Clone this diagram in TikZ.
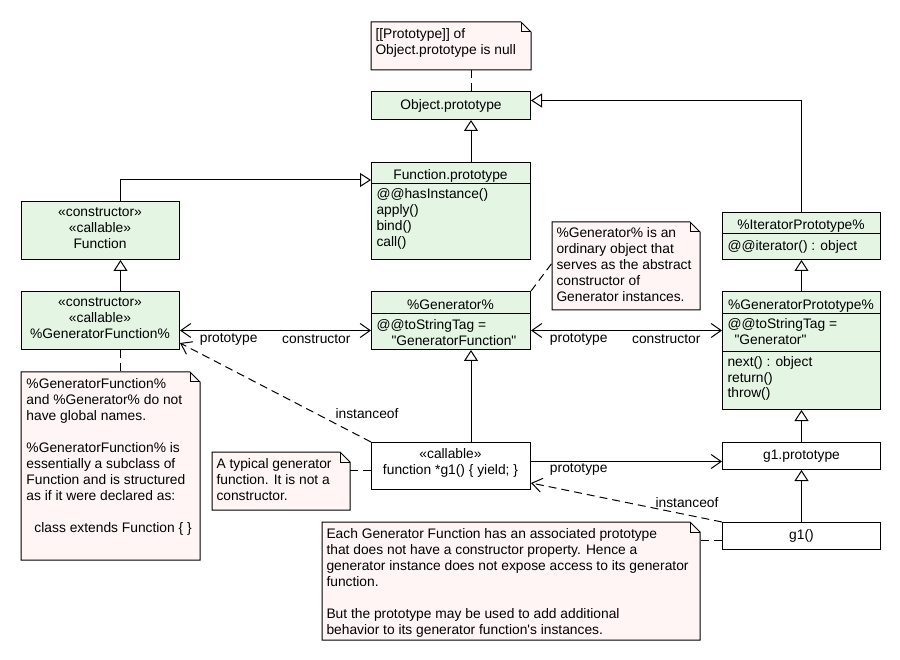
\documentclass[tikz,border=0pt]{standalone}
\usepackage{fontspec}
\newfontfamily\lsans{Liberation Sans}
\usetikzlibrary{arrows.meta}
\definecolor{clsfill}{HTML}{E4F5E4}
\definecolor{notefill}{HTML}{FFF5F5}
\newcommand\drawnotefold[1]{%
  \filldraw[fill=notefill] (#1.north west) -- ([xshift=-10pt]#1.north east) -- ([yshift=-10pt]#1.north east) -- (#1.south east) -- (#1.south west) -- cycle;
  \draw ([xshift=-10pt]#1.north east) -- ([xshift=-10pt,yshift=-10pt]#1.north east) -- ([yshift=-10pt]#1.north east);}
\tikzset{
  every node/.style={font=\lsans\fontsize{13.8}{16}\selectfont},
  box/.style={draw, anchor=north west, inner sep=0pt, fill=clsfill},
  wbox/.style={box, fill=white},
  notebox/.style={anchor=north west, inner sep=0pt},
  txtl/.style={inner sep=0pt, anchor=north west, align=left, execute at begin node=\strut},
  txtc/.style={inner sep=0pt, anchor=north, align=center, execute at begin node=\strut},
  lbl/.style={inner sep=0pt},
  inh/.style={-{Triangle[length=11pt,width=14pt,fill=white]}},
  opena/.style={-{Straight Barb[length=10pt,width=14pt]}},
  biopen/.style={{Straight Barb[length=10pt,width=14pt]}-{Straight Barb[length=10pt,width=14pt]}},
  dsh/.style={dash pattern=on 8pt off 5pt},
}
\begin{document}
\begin{tikzpicture}[x=1pt,y=-1pt,line width=1pt]
\path[use as bounding box, fill=white] (0,0) rectangle (900,660);

% ---- notes ----
\node[notebox, minimum width=159pt, minimum height=47pt] (n1) at (371,22) {};
\drawnotefold{n1}
\node[txtl] (n1t) at (375,28.5) {[[Prototype]] of\\Object.prototype is null};

\node[notebox, minimum width=178pt, minimum height=187pt] (n2) at (21,372) {};
\drawnotefold{n2}
\node[txtl] (n2t) at (26,377.5) {\%GeneratorFunction\%\\and \%Generator\% do not\\have global names.\\[16pt]\%GeneratorFunction\% is\\essentially a subclass of\\Function and is structured\\as if it were declared as:\\[16pt]\hspace*{8pt}class extends Function \{ \}};

\node[notebox, minimum width=147pt, minimum height=87pt] (n3) at (552,222) {};
\drawnotefold{n3}
\node[txtl] (n3t) at (556,227.5) {\%Generator\% is an\\ordinary object that\\serves as the abstract\\constructor of\\Generator instances.};

\node[notebox, minimum width=137pt, minimum height=57pt] (n4) at (212,452) {};
\drawnotefold{n4}
\node[txtl] (n4t) at (216,457.5) {A typical generator\\function. It is not a\\constructor.};

\node[notebox, minimum width=377pt, minimum height=117pt] (n5) at (322,522) {};
\drawnotefold{n5}
\node[txtl] (n5t) at (326,527.5) {Each Generator Function has an associated prototype\\that does not have a constructor property. Hence a\\generator instance does not expose access to its generator\\function.\\[16pt]But the prototype may be used to add additional\\behavior to its generator function's instances.};

% ---- classes ----
\node[box, minimum width=159pt, minimum height=28pt] (objp) at (371,91) {Object.prototype};

\node[box, minimum width=159pt, minimum height=97pt] (fproto) at (371,162) {};
\draw ([yshift=-22pt]fproto.north west) -- ([yshift=-22pt]fproto.north east);
\node[txtc] (fprotoh) at (450.5,167.5) {Function.prototype};
\node[txtl] (fprotor) at (376,188.5) {@@hasInstance()\\apply()\\bind()\\call()};

\node[box, minimum width=158pt, minimum height=58pt] (func) at (21,201) {};
\node[txtc] (funct) at (100,207.5) {«constructor»\\«callable»\\Function};

\node[box, minimum width=158pt, minimum height=58pt] (genfn) at (21,291) {};
\node[txtc] (genfnt) at (100,297.5) {«constructor»\\«callable»\\\%GeneratorFunction\%};

\node[box, minimum width=159pt, minimum height=58pt] (gen) at (371,291) {};
\draw ([yshift=-23pt]gen.north west) -- ([yshift=-23pt]gen.north east);
\node[txtc] (genh) at (450.5,297.5) {\%Generator\%};
\node[txtl] (genr) at (376,319.5) {@@toStringTag =\\\hspace*{15pt}"GeneratorFunction"};

\node[box, minimum width=158pt, minimum height=47pt] (iterp) at (722,212) {};
\draw ([yshift=-22pt]iterp.north west) -- ([yshift=-22pt]iterp.north east);
\node[txtc] (iterph) at (801,217.5) {\%IteratorPrototype\%};
\node[txtl] (iterpr) at (727,238.5) {@@iterator() : object};

\node[box, minimum width=158pt, minimum height=118pt] (genp) at (722,291) {};
\draw ([yshift=-23pt]genp.north west) -- ([yshift=-23pt]genp.north east);
\draw ([yshift=-61pt]genp.north west) -- ([yshift=-61pt]genp.north east);
\node[txtc] (genph) at (801,297.5) {\%GeneratorPrototype\%};
\node[txtl] (genpr1) at (727,318.5) {@@toStringTag =\\\hspace*{7pt}"Generator"};
\node[txtl] (genpr2) at (727,355.5) {next() : object\\return()\\throw()};

\node[wbox, minimum width=159pt, minimum height=47pt] (g1) at (371,442) {};
\node[txtc] (g1t) at (450.5,447.5) {«callable»\\function *g1() \{ yield; \}};

\node[wbox, minimum width=158pt, minimum height=27pt] (g1p) at (722,442) {g1.prototype};
\node[wbox, minimum width=158pt, minimum height=27pt] (g1c) at (722,522) {g1()};

% ---- connectors ----
\draw[dsh] ([xshift=20pt]n1.south) -- ([xshift=20pt]objp.north);
\draw[inh] ([xshift=20pt]fproto.north) -- ([xshift=20pt]objp.south);
\draw[inh] ([xshift=20pt]func.north) |- ([yshift=-18pt]fproto.north west);
\draw[inh] ([xshift=20pt]genfn.north) -- ([xshift=20pt]func.south);
\draw[inh] (iterp.north) |- ([yshift=5pt]objp.east);
\draw[inh] (genp.north) -- (iterp.south);
\draw[inh] ([xshift=20pt]g1.north) -- ([xshift=20pt]gen.south);
\draw[inh] (g1p.north) -- (genp.south);
\draw[inh] (g1c.north) -- (g1p.south);

\draw[biopen] ([yshift=-10pt]genfn.east) -- ([yshift=-10pt]gen.west)
  node[lbl, pos=0.255, yshift=-9pt] (lp1) {prototype}
  node[lbl, pos=0.714, yshift=-9pt] (lc1) {constructor};
\draw[biopen] ([yshift=-10pt]gen.east) -- ([yshift=-10pt]gen.east -| genp.west)
  node[lbl, pos=0.25, yshift=-9pt] (lp2) {prototype}
  node[lbl, pos=0.708, yshift=-9pt] (lc2) {constructor};

\draw[dsh] ([xshift=20pt]genfn.south) -- ([xshift=20pt]genfn.south |- n2.north);
\draw[dsh] (gen.north east) -- ([yshift=3pt]n3.west);
\draw[dsh] ([yshift=-4.5pt]g1.west) -- ([yshift=-4.5pt]g1.west -| n4.east);
\draw[dsh] ([yshift=-4.5pt]g1c.west) -- ([yshift=-4.5pt]g1c.west -| n5.east);

\draw[dsh, opena] (g1.north west) -- ([yshift=7pt]genfn.south east)
  node[lbl, pos=0, xshift=-4pt, yshift=28pt] (li1) {instanceof};
\draw[opena] ([yshift=4.5pt]g1.east) -- ([yshift=4.5pt]g1.east -| g1p.west)
  node[lbl, pos=0.25, yshift=-8pt] (lp3) {prototype};
\draw[dsh, opena] (g1c.north west) -- ([yshift=7pt]g1.south east)
  node[lbl, pos=0, xshift=-35pt, yshift=19pt] (li2) {instanceof};
\end{tikzpicture}
\end{document}
